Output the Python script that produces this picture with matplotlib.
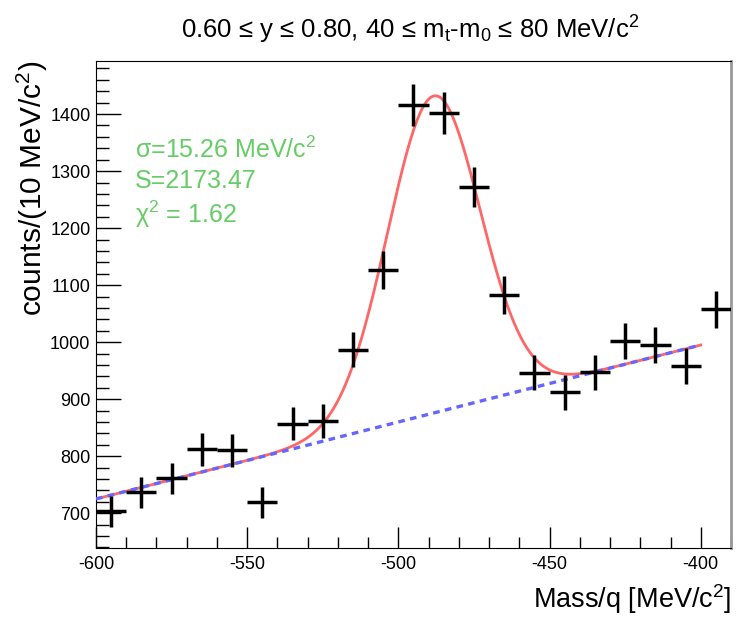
import numpy as np
import matplotlib
matplotlib.use('Agg')
import matplotlib.pyplot as plt
from matplotlib.ticker import MultipleLocator

plt.rcParams['font.family'] = ['Liberation Sans', 'DejaVu Sans']
plt.rcParams['mathtext.default'] = 'regular'

# histogram: bin centres (MeV/c^2) and counts per 10 MeV/c^2
bin_centers = [-595, -585, -575, -565, -555, -545, -535, -525, -515, -505, -495,
               -485, -475, -465, -455, -445, -435, -425, -415, -405, -395]
counts = [703, 737, 761, 812, 810, 719, 857, 862, 987, 1127, 1416,
          1402, 1272, 1083, 946, 912, 947, 1002, 995, 958, 1058]
bin_width = 10

# fit: gaussian peak + linear background
fit_range = (-600, -400)
peak_mean = -488.3
peak_sigma = 15.26
peak_amp = 556
bkg_at_600 = 725
bkg_slope = 1.35

x_fit = np.linspace(fit_range[0], fit_range[1], 400)
bkg = bkg_at_600 + bkg_slope * (x_fit - fit_range[0])
total = bkg + peak_amp * np.exp(-0.5 * ((x_fit - peak_mean) / peak_sigma) ** 2)

fig = plt.figure(figsize=(7.36, 6.18), dpi=100)
ax = fig.add_axes([0.1304, 0.1133, 0.8628, 0.7888])

ax.plot(x_fit, total, color='#ff6666', lw=2.0, zorder=2)
ax.plot(x_fit, bkg, color='#6666ff', lw=2.4, ls=(0, (2.0, 1.6)), zorder=3)
ax.errorbar(bin_centers, counts, xerr=bin_width / 2, yerr=np.sqrt(counts),
            fmt='none', ecolor='black', elinewidth=2.5, capsize=0, zorder=4)

ax.set_xlim(-600, -390)
ax.set_ylim(639, 1494)
ax.xaxis.set_major_locator(MultipleLocator(50))
ax.xaxis.set_minor_locator(MultipleLocator(10))
ax.yaxis.set_major_locator(MultipleLocator(100))
ax.yaxis.set_minor_locator(MultipleLocator(20))
ax.tick_params(which='both', direction='in', top=False, right=False, labelsize=13, width=1)
ax.tick_params(axis='y', which='major', length=18, pad=4)
ax.tick_params(axis='y', which='minor', length=9)
ax.tick_params(axis='x', which='major', length=15, pad=6)
ax.tick_params(axis='x', which='minor', length=8)
ax.set_xticks([-600, -550, -500, -450, -400])
ax.set_xticklabels(['-600', '-550', '-500', '-450', '-400'])
for s in ['left', 'bottom', 'top']:
    ax.spines[s].set_color('black')
ax.spines['right'].set_color('#999999')
ax.spines['right'].set_linewidth(2)

ax.set_xlabel('Mass/q [MeV/c$^2$]', fontsize=19.5, loc='right')
ax.xaxis.set_label_coords(1.0, -0.070)
ax.set_ylabel('counts/(10 MeV/c$^2$)', fontsize=21.5, loc='top')
ax.yaxis.set_label_coords(-0.072, 1.0)

fig.text(0.5575, 0.952, '0.60 \u2264 y \u2264 0.80, 40 \u2264 m$_t$-m$_0$ \u2264 80 MeV/c$^2$',
         ha='center', va='center', fontsize=18.5)

green = '#66cc66'
ax.text(0.061, 0.816, '\u03c3=15.26 MeV/c$^2$', transform=ax.transAxes,
        color=green, fontsize=18, va='center')
ax.text(0.061, 0.752, 'S=2173.47', transform=ax.transAxes,
        color=green, fontsize=18, va='center')
ax.text(0.061, 0.684, '\u03c7$^2$ = 1.62', transform=ax.transAxes,
        color=green, fontsize=18, va='center')

fig.savefig('out.png', dpi=100)
